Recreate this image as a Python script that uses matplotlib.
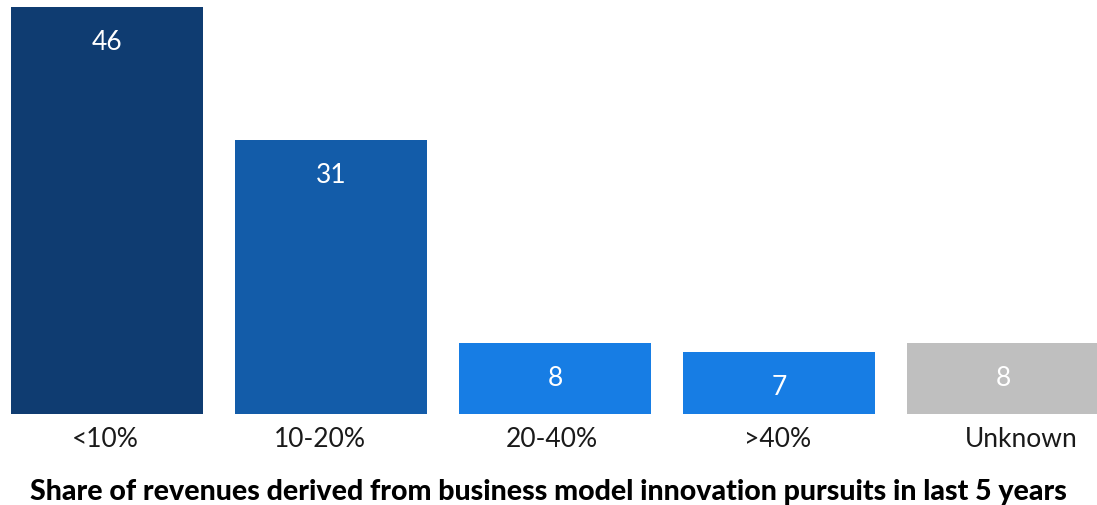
import matplotlib.pyplot as plt
from matplotlib.transforms import ScaledTranslation

categories = ["<10%", "10-20%", "20-40%", ">40%", "Unknown"]
values = [46, 31, 8, 7, 8]
colors = ["#0f3c71", "#135ca9", "#177de4", "#177de4", "#bfbfbf"]
title = "Share of revenues derived from business model innovation pursuits in last 5 years"

fig = plt.figure(figsize=(10.97, 5.06), dpi=100)
ax = fig.add_axes([0, 0.1798, 1, 0.8202])

x = list(range(len(categories)))
bars = ax.bar(x, values, width=0.857, color=colors)

ax.set_xlim(-0.4777, 4.4196)
ax.set_ylim(0, 46.9)
for s in ax.spines.values():
    s.set_visible(False)
ax.set_yticks([])
ax.set_xticks([])

# value labels inside the top of each bar
for b, v in zip(bars, values):
    ax.annotate(str(v), (b.get_x() + b.get_width() / 2, v),
                xytext=(0, -25), textcoords="offset points",
                ha="center", va="center", color="white",
                fontsize=19, family="Lato")

# category labels under the bars, nudged a little like the original layout
nudge = [-2, -11, -3, -1, 18]
for xi, lab, dx in zip(x, categories, nudge):
    tr = ax.get_xaxis_transform() + ScaledTranslation(dx / 100, -0.12, fig.dpi_scale_trans)
    ax.text(xi, 0, lab, transform=tr, ha="center", va="top",
            fontsize=19, family="Lato", color="#1a1a1a")

fig.text(0.5, 0.028, title, ha="center", va="center", fontsize=20.5,
         family="Lato", fontweight="black", color="black")

fig.savefig("out.png", dpi=100)
